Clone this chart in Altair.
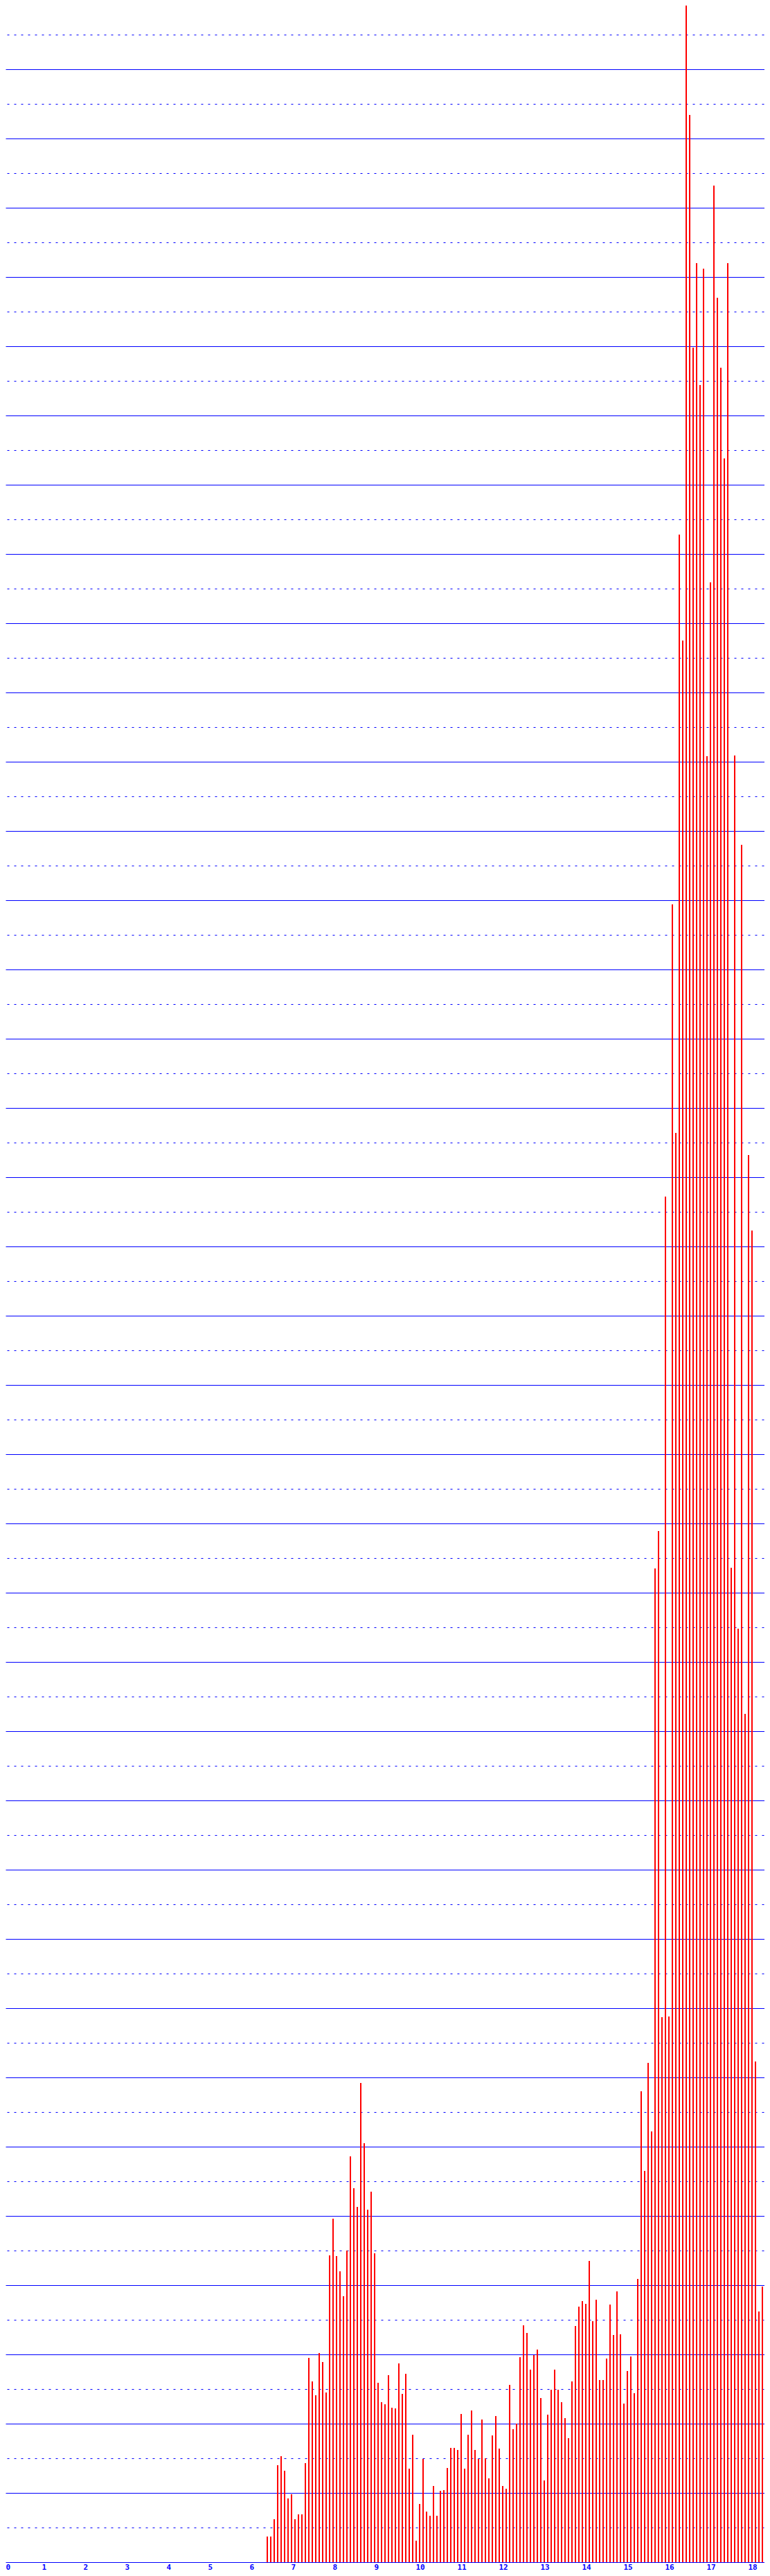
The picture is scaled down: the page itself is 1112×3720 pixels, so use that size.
import altair as alt
import pandas as pd

# Age in months (6y5m .. 18y6m), one bar per month
age_months = list(range(77, 223))

# Bar heights (one grid division = 1.0)
values = [
    0.37, 0.37, 0.62, 1.40, 1.53, 1.32, 0.92, 0.98, 0.62, 0.69,
    0.69, 1.43, 2.95, 2.61, 2.41, 3.02, 2.89, 2.45, 4.43, 4.96,
    4.42, 4.20, 3.84, 4.50, 5.86, 5.40, 5.13, 6.92, 6.05, 5.09,
    5.35, 4.46, 2.59, 2.31, 2.28, 2.70, 2.23, 2.22, 2.87, 2.43,
    2.72, 1.35, 1.84, 0.31, 0.84, 1.49, 0.73, 0.67, 1.10, 0.67,
    1.03, 1.04, 1.36, 1.65, 1.65, 1.62, 2.14, 1.35, 1.84, 2.19,
    1.62, 1.49, 2.06, 1.50, 1.21, 1.83, 2.11, 1.64, 1.10, 1.06,
    2.56, 1.92, 2.00, 2.96, 3.42, 3.31, 2.78, 2.99, 3.07, 2.37,
    1.18, 2.13, 2.49, 2.78, 2.49, 2.31, 2.08, 1.79, 2.61, 3.41,
    3.69, 3.77, 3.73, 4.35, 3.48, 3.79, 2.63, 2.63, 2.94, 3.72,
    3.28, 3.91, 3.29, 2.29, 2.76, 2.97, 2.44, 4.09, 6.80, 5.65,
    7.21, 6.22, 14.35, 14.89, 7.87, 19.72, 7.88, 23.94, 20.64, 29.28,
    27.75, 36.98, 35.34, 31.98, 33.20, 31.44, 33.12, 26.08, 28.59, 34.32,
    32.70, 31.69, 30.38, 33.20, 14.36, 26.09, 13.48, 24.80, 12.25, 20.32,
    19.23, 7.23, 3.62, 3.98, 3.96, 4.10,
]

# Axis tick labels (years) and grid levels
x_ticks = [8 / 60] + list(range(1, 19))
solid_grid = list(range(0, 37))
dotted_grid = [g + 0.5 for g in range(0, 37)]

df = pd.DataFrame({"m": age_months, "v": values})

W, H = 1096, 3692
x_scale = alt.Scale(domain=[8 / 60, (8 + W) / 60], nice=False, zero=False)
y_scale = alt.Scale(domain=[0, H / 100], nice=False, zero=True)

x_axis = alt.Axis(
    values=x_ticks,
    labelExpr="datum.value < 0.5 ? '0' : format(datum.value, 'd')",
    labelFont="DejaVu Sans Mono",
    labelFontWeight="bold",
    labelFontSize=11,
    labelColor="#0000ff",
    labelAlign="left",
    labelBaseline="top",
    labelPadding=1,
    labelFlush=False,
    labelOverlap=False,
    ticks=False,
    domain=False,
    grid=False,
    title=None,
)

base = alt.Chart(df).transform_calculate(
    x="datum.m / 12",
    x2="datum.m / 12 + 2 / 60",
    y0="0",
)

dotted = base.mark_rect(opacity=0, clip=True).encode(
    x=alt.X("x:Q", scale=x_scale, axis=x_axis),
    x2="x2:Q",
    y=alt.Y(
        "v:Q",
        scale=y_scale,
        axis=alt.Axis(
            orient="left",
            values=dotted_grid,
            grid=True,
            gridColor="#0000ff",
            gridOpacity=1,
            gridWidth=1,
            gridDash=[3, 7],
            gridDashOffset=8,
            labels=False,
            ticks=False,
            domain=False,
            title=None,
        ),
    ),
    y2="y0:Q",
)

bars = base.mark_rect(color="#ff0000", clip=True).encode(
    x=alt.X("x:Q", scale=x_scale, axis=x_axis),
    x2="x2:Q",
    y=alt.Y(
        "v:Q",
        scale=y_scale,
        axis=alt.Axis(
            orient="left",
            values=solid_grid,
            grid=True,
            gridColor="#0000ff",
            gridOpacity=1,
            gridWidth=1,
            labels=False,
            ticks=False,
            domain=False,
            title=None,
        ),
    ),
    y2="y0:Q",
)

chart = (
    alt.layer(dotted, bars)
    .resolve_axis(y="independent")
    .properties(width=W, height=H, padding=0, background="#ffffff")
    .configure_view(stroke=None)
)

chart.save("out.html", embed_options={"renderer": "svg", "actions": False})
